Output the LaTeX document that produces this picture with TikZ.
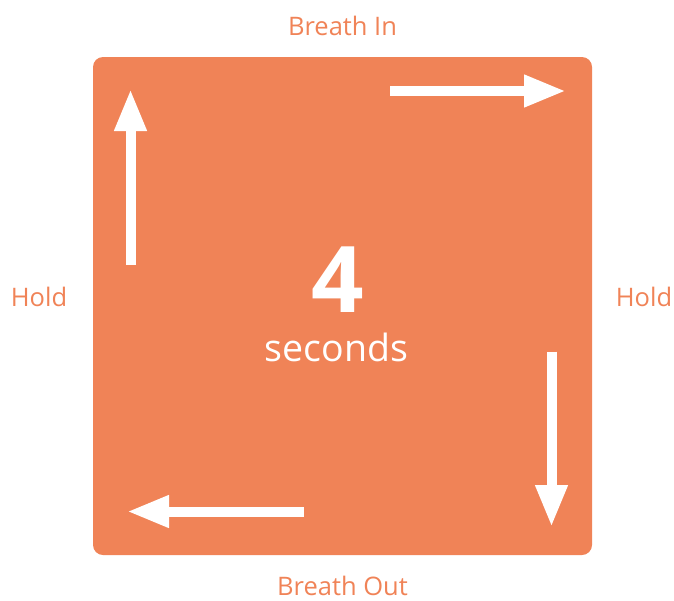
\documentclass[tikz,border=0pt]{standalone}
\usepackage{fontspec}
\setmainfont{Open Sans}
\usepackage{tikz}
\usetikzlibrary{positioning, arrows.meta}
\definecolor{boxorange}{RGB}{240,131,87}

\begin{document}
\begin{tikzpicture}[
  x=1pt, y=-1pt,
  box/.style={fill=boxorange, rounded corners=10pt, minimum width=499pt, minimum height=498pt, inner sep=0pt},
  lbl/.style={text=boxorange, anchor=base, inner sep=0pt, font=\fontsize{25.5}{30}\selectfont},
  flow/.style={draw=white, line width=10pt, -{Triangle[length=42pt, width=30pt]}}
]
\useasboundingbox (0,0) rectangle (674,600);

% square and centre text
\node[box] (breathbox) at (342.5,306) {};
\node[anchor=base, text=white, inner sep=0pt, font=\fontsize{92}{96}\selectfont\bfseries] (count) at (337.5,312) {4};
\node[anchor=base, text=white, inner sep=0pt, font=\fontsize{37.5}{42}\selectfont] (unit) at (336.5,361) {seconds};

% side labels
\node[lbl] (inlbl)    at (342.5,35)  {Breath In};
\node[lbl] (outlbl)   at (342.5,595) {Breath Out};
\node[lbl] (holdleft) at (39,306)    {Hold};
\node[lbl] (holdright) at (644,306)  {Hold};

% arrow ends
\coordinate (upstart)    at (130.5,265);
\coordinate (upend)      at (130.5,89);
\coordinate (rightstart) at (390,91);
\coordinate (rightend)   at (566,91);
\coordinate (downstart)  at (551.5,351.5);
\coordinate (downend)    at (551.5,527);
\coordinate (leftstart)  at (303.5,511.5);
\coordinate (leftend)    at (127,511.5);

\draw[flow] (upstart) -- (upend);
\draw[flow] (rightstart) -- (rightend);
\draw[flow] (downstart) -- (downend);
\draw[flow] (leftstart) -- (leftend);
\end{tikzpicture}
\end{document}
